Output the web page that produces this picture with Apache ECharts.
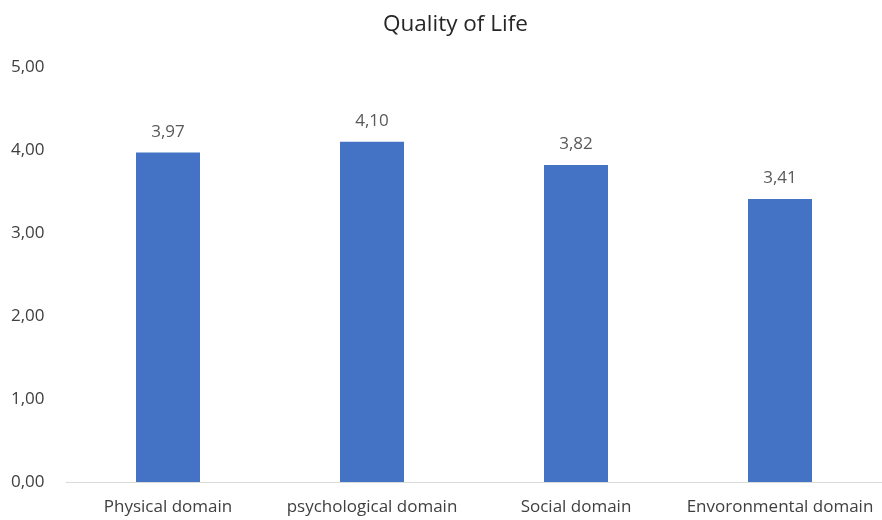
<!DOCTYPE html>
<html><head><meta charset="utf-8">
<script src="https://cdn.jsdelivr.net/npm/echarts@6/dist/echarts.min.js"></script>
<style>html,body{margin:0;padding:0;background:#fff}#c{width:882px;height:520px}</style>
</head><body><div id="c"></div>
<script>
const categories = ["Physical domain", "psychological domain", "Social domain", "Envoronmental domain"];
const values = [3.97, 4.10, 3.82, 3.41];
const yTicks = [0, 1, 2, 3, 4, 5];
const fmt = v => Number(v).toFixed(2).replace('.', ',');
const chart = echarts.init(document.getElementById('c'));
chart.setOption({
  animation: false,
  title: { text: 'Quality of Life', left: 378, top: 8,
    textStyle: { fontFamily: 'Open Sans', fontSize: 22.5, fontWeight: 'normal', color: '#262626' } },
  grid: { left: 66, right: -4, top: 67, bottom: 38, containLabel: false },
  xAxis: { type: 'category', data: categories,
    axisLine: { lineStyle: { color: '#d9d9d9', width: 1 } }, axisTick: { show: false },
    axisLabel: { color: '#404040', fontFamily: 'Open Sans', fontSize: 17, margin: 17, interval: 0 } },
  yAxis: { type: 'value', min: yTicks[0], max: yTicks[yTicks.length-1], interval: 1,
    splitLine: { show: false }, axisLine: { show: false }, axisTick: { show: false },
    axisLabel: { color: '#404040', fontFamily: 'Open Sans', fontSize: 17, align: 'left', margin: 55, formatter: fmt } },
  series: [{ type: 'bar', data: values, barWidth: 64,
    itemStyle: { color: '#4472C4' },
    label: { show: true, position: 'top', distance: 12, color: '#595959', fontFamily: 'Open Sans', fontSize: 17, formatter: p => fmt(p.value) } }]
});
</script></body></html>
